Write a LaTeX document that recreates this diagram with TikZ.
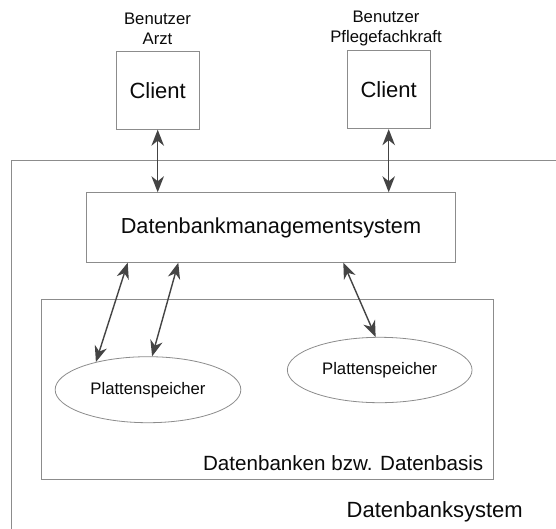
\documentclass[tikz,border=0pt]{standalone}
\usepackage{fontspec}
\setmainfont{Liberation Sans}
\usetikzlibrary{arrows.meta,shapes.geometric}
\definecolor{boxgray}{HTML}{8C8C8C}
\definecolor{arrowgray}{HTML}{444444}
\definecolor{txt}{HTML}{0A0A0A}
\tikzset{
  box/.style={draw=boxgray, line width=0.9pt, rectangle, inner sep=0pt},
  disk/.style={draw=boxgray, line width=0.8pt, ellipse, inner sep=0pt,
               font=\fontsize{16.7}{20}\selectfont, text=txt},
  tip/.style={Stealth[length=16pt,width=12.5pt,inset=5pt]},
  link/.style={draw=arrowgray, line width=1.4pt, {Stealth[length=16pt,width=12.5pt,inset=5pt]}-{Stealth[length=16pt,width=12.5pt,inset=5pt]}},
  userlabel/.style={align=center, inner sep=0pt, text=txt,
               font=\fontsize{16.7}{20.5}\selectfont},
}
\begin{document}
\begin{tikzpicture}[x=1pt,y=-1pt]
\useasboundingbox (0,0) rectangle (556,528);
\clip (0,0) rectangle (556,528);
\fill[white] (0,0) rectangle (556,528);

% Datenbanksystem frame (runs past the right and bottom edges)
\node[box, minimum width=600pt, minimum height=420pt, anchor=north west] (dbs) at (11,160) {};
\node[anchor=west, inner sep=0pt, text=txt, font=\fontsize{22}{26}\selectfont] (dbslabel) at (346.5,512) {Datenbanksystem};

% clients
\node[box, minimum width=83pt, minimum height=77.5pt, font=\fontsize{22}{26}\selectfont, text=txt] (c1) at (157.7,90.5) {Client};
\node[box, minimum width=83pt, minimum height=78pt, font=\fontsize{22}{26}\selectfont, text=txt] (c2) at (388.7,89.7) {Client};
\node[userlabel] (u1) at (157.5,29) {Benutzer\\Arzt};
\node[userlabel] (u2) at (386,28.5) {Benutzer\\Pflegefachkraft};

% database management system
\node[box, minimum width=368.6pt, minimum height=70pt, font=\fontsize{21.7}{26}\selectfont, text=txt] (dbms) at (271,227.7) {Datenbankmanagementsystem};

% database
\node[box, minimum width=452.6pt, minimum height=179.7pt, anchor=north west] (db) at (40.7,299.3) {};
\node[anchor=base east, inner sep=0pt, text=txt, font=\fontsize{20.6}{24}\selectfont] (dblabel) at (483.5,470) {Datenbanken bzw. Datenbasis};

% disks
\node[disk, minimum width=185.7pt, minimum height=66pt] (p1) at (148,389.7) {Plattenspeicher};
\node[disk, minimum width=184.7pt, minimum height=65.4pt] (p2) at (379.7,370) {Plattenspeicher};

% connectors
\draw[link] (c1.south) -- (c1.south |- dbms.north);
\draw[link] (c2.south) -- (c2.south |- dbms.north);
\coordinate (d1) at (127.7,262.7);
\coordinate (d2) at (178.3,262.7);
\coordinate (d3) at (343.3,262.7);
\draw[link] (d1) -- (p1.152);
\draw[link] (d2) -- (p1.83.5);
\draw[link] (d3) -- (p2.97.5);
\end{tikzpicture}
\end{document}
